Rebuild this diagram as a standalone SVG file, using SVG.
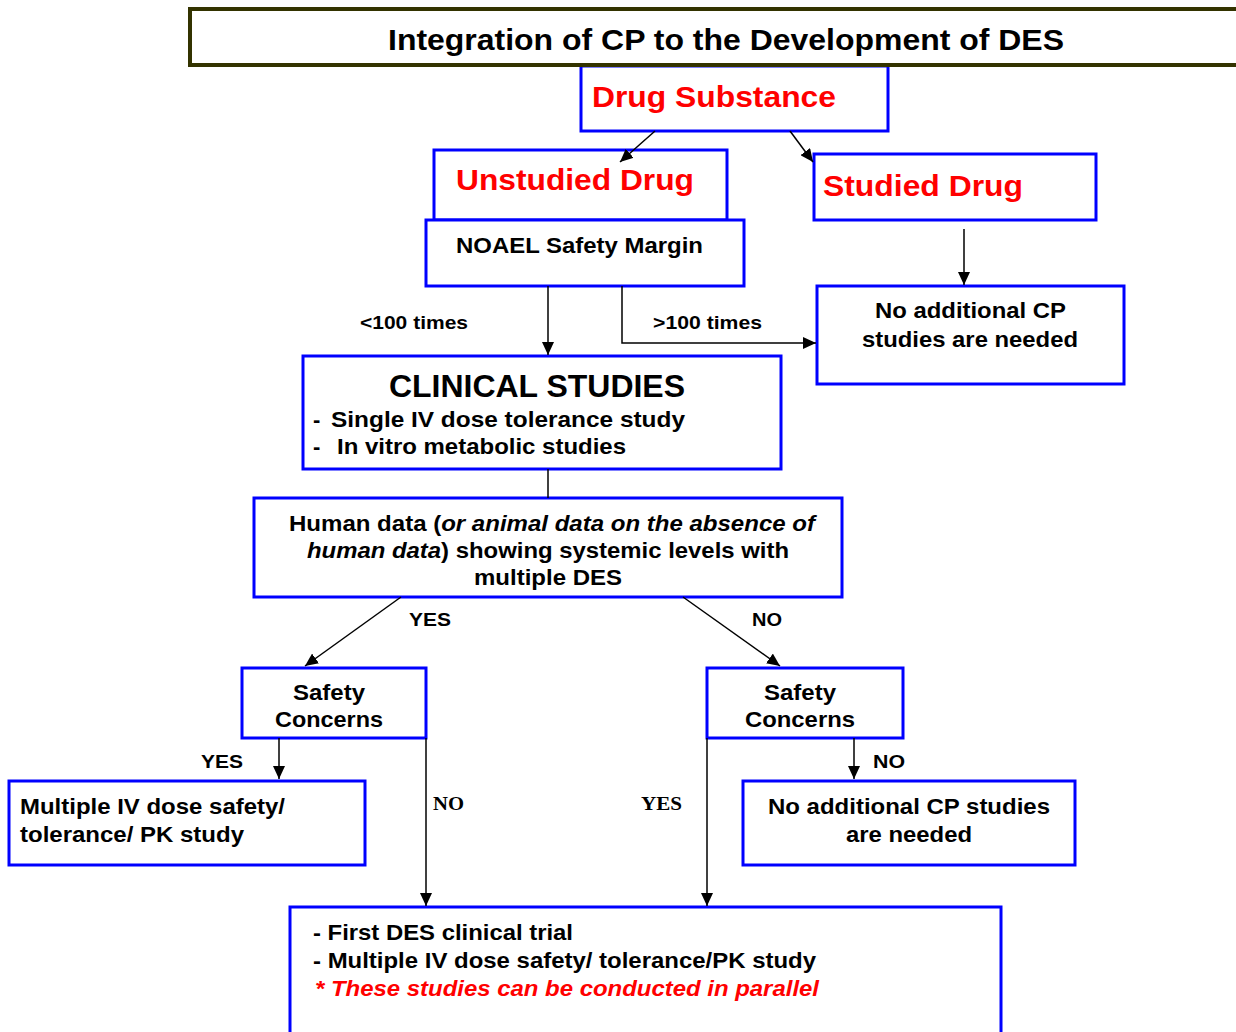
<svg xmlns="http://www.w3.org/2000/svg" width="1236" height="1032" viewBox="0 0 1236 1032">
<style>
.box{fill:#fff;stroke:#0000ff;stroke-width:3}
.t{font-family:"Liberation Sans",Arial,sans-serif;font-weight:bold;fill:#000}
.red{fill:#ff0000}
.big{font-size:30px}
.m{font-size:22px}
.s{font-size:19px}
.serif{font-family:"Liberation Serif","Times New Roman",serif;font-weight:bold;font-size:19px;fill:#000}
.c{stroke:#000;stroke-width:1.5;fill:none}
</style>
<defs>
<marker id="ah" markerUnits="userSpaceOnUse" markerWidth="14" markerHeight="12" refX="13" refY="6" orient="auto">
<path d="M0,0 L13,6 L0,12 z" fill="#000"/>
</marker>
</defs>
<rect width="1236" height="1032" fill="#fff"/>
<g id="drug-substance">
<rect class="box" x="581" y="66" width="307" height="65"/>
<text class="t big red" x="592" y="107" textLength="244" lengthAdjust="spacingAndGlyphs">Drug Substance</text>
</g>
<g id="title">
<rect x="190" y="9" width="1060" height="56" fill="#fff" stroke="#333300" stroke-width="4"/>
<text class="t" font-size="30" x="388" y="50" textLength="676" lengthAdjust="spacingAndGlyphs">Integration of CP to the Development of DES</text>
</g>
<g id="unstudied-drug">
<rect class="box" x="434" y="150" width="293" height="70"/>
<text class="t big red" x="456" y="190" textLength="238" lengthAdjust="spacingAndGlyphs">Unstudied Drug</text>
</g>
<g id="noael">
<rect class="box" x="426" y="220" width="318" height="66"/>
<text class="t m" x="456" y="253" textLength="247" lengthAdjust="spacingAndGlyphs">NOAEL Safety Margin</text>
</g>
<g id="studied-drug">
<rect class="box" x="814" y="154" width="282" height="66"/>
<text class="t big red" x="823" y="196" textLength="200" lengthAdjust="spacingAndGlyphs">Studied Drug</text>
</g>
<g id="no-additional-1">
<rect class="box" x="817" y="286" width="307" height="98"/>
<text class="t m" x="875" y="318" textLength="191" lengthAdjust="spacingAndGlyphs">No additional CP</text>
<text class="t m" x="862" y="347" textLength="216" lengthAdjust="spacingAndGlyphs">studies are needed</text>
</g>
<g id="clinical-studies">
<rect class="box" x="303" y="356" width="478" height="113"/>
<text class="t" font-size="31" x="389" y="397" textLength="296" lengthAdjust="spacingAndGlyphs">CLINICAL STUDIES</text>
<text class="t m" x="313" y="427" font-weight="normal">-</text>
<text class="t m" x="331" y="427" textLength="354" lengthAdjust="spacingAndGlyphs">Single IV dose tolerance  study</text>
<text class="t m" x="313" y="454" font-weight="normal">-</text>
<text class="t m" x="337" y="454" textLength="289" lengthAdjust="spacingAndGlyphs">In vitro metabolic studies</text>
</g>
<g id="human-data">
<rect class="box" x="254" y="498" width="588" height="99"/>
<text class="t m" x="289" y="531" textLength="526" lengthAdjust="spacingAndGlyphs">Human data (<tspan font-style="italic">or animal data on the absence of</tspan></text>
<text class="t m" x="307" y="558" textLength="482" lengthAdjust="spacingAndGlyphs"><tspan font-style="italic">human data</tspan>) showing systemic levels with</text>
<text class="t m" x="474" y="585" textLength="148" lengthAdjust="spacingAndGlyphs">multiple DES</text>
</g>
<g id="safety-left">
<rect class="box" x="242" y="668" width="184" height="70"/>
<text class="t m" x="293" y="700" textLength="72" lengthAdjust="spacingAndGlyphs">Safety</text>
<text class="t m" x="275" y="727" textLength="108" lengthAdjust="spacingAndGlyphs">Concerns</text>
</g>
<g id="safety-right">
<rect class="box" x="707" y="668" width="196" height="70"/>
<text class="t m" x="764" y="700" textLength="72" lengthAdjust="spacingAndGlyphs">Safety</text>
<text class="t m" x="745" y="727" textLength="110" lengthAdjust="spacingAndGlyphs">Concerns</text>
</g>
<g id="multiple-iv">
<rect class="box" x="9" y="781" width="356" height="84"/>
<text class="t m" x="20" y="814" textLength="265" lengthAdjust="spacingAndGlyphs">Multiple IV dose safety/</text>
<text class="t m" x="20" y="842" textLength="224" lengthAdjust="spacingAndGlyphs">tolerance/ PK study</text>
</g>
<g id="no-additional-2">
<rect class="box" x="743" y="781" width="332" height="84"/>
<text class="t m" x="768" y="814" textLength="282" lengthAdjust="spacingAndGlyphs">No additional CP studies</text>
<text class="t m" x="846" y="842" textLength="126" lengthAdjust="spacingAndGlyphs">are needed</text>
</g>
<g id="first-des">
<rect class="box" x="290" y="907" width="711" height="140"/>
<text class="t m" x="313" y="940" textLength="260" lengthAdjust="spacingAndGlyphs">- First DES clinical trial</text>
<text class="t m" x="313" y="968" textLength="503" lengthAdjust="spacingAndGlyphs">- Multiple IV dose safety/ tolerance/PK study</text>
<text class="t m red" x="315" y="996" font-style="italic" textLength="504" lengthAdjust="spacingAndGlyphs">* These studies can be conducted in parallel</text>
</g>
<g id="connectors">
<path class="c" d="M655,131 L620,162" marker-end="url(#ah)"/>
<path class="c" d="M790,131 L813,162" marker-end="url(#ah)"/>
<path class="c" d="M964,229 L964,285" marker-end="url(#ah)"/>
<path class="c" d="M548,286 L548,355" marker-end="url(#ah)"/>
<path class="c" d="M622,286 L622,343 L816,343" marker-end="url(#ah)"/>
<path class="c" d="M548,469 L548,498"/>
<path class="c" d="M401,597 L305,666" marker-end="url(#ah)"/>
<path class="c" d="M683,597 L780,666" marker-end="url(#ah)"/>
<path class="c" d="M279,738 L279,779" marker-end="url(#ah)"/>
<path class="c" d="M426,738 L426,906" marker-end="url(#ah)"/>
<path class="c" d="M707,738 L707,906" marker-end="url(#ah)"/>
<path class="c" d="M854,738 L854,779" marker-end="url(#ah)"/>
<text class="t s" x="360" y="329" textLength="108" lengthAdjust="spacingAndGlyphs">&lt;100 times</text>
<text class="t s" x="653" y="329" textLength="109" lengthAdjust="spacingAndGlyphs">&gt;100 times</text>
<text class="t s" x="409" y="626" textLength="42" lengthAdjust="spacingAndGlyphs">YES</text>
<text class="t s" x="752" y="626" textLength="30" lengthAdjust="spacingAndGlyphs">NO</text>
<text class="t s" x="201" y="768" textLength="42" lengthAdjust="spacingAndGlyphs">YES</text>
<text class="t s" x="873" y="768" textLength="32" lengthAdjust="spacingAndGlyphs">NO</text>
<text class="serif" x="433" y="810" textLength="31" lengthAdjust="spacingAndGlyphs">NO</text>
<text class="serif" x="641" y="810" textLength="41" lengthAdjust="spacingAndGlyphs">YES</text>
</g>
</svg>
